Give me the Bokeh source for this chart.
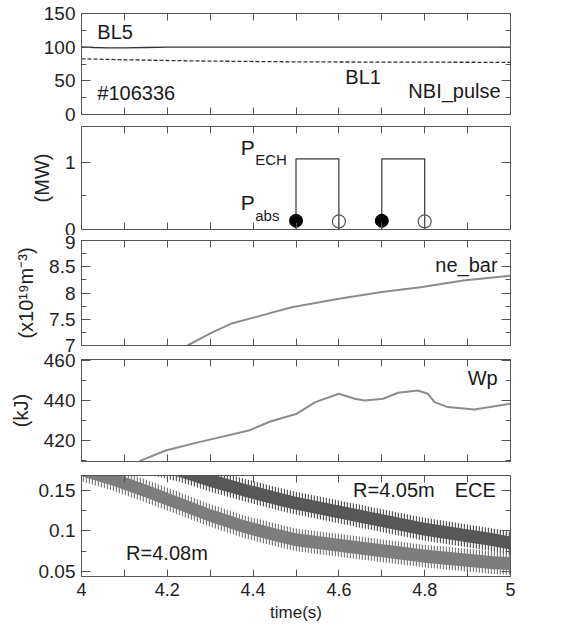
from bokeh.plotting import figure
from bokeh.models import Range1d, LinearAxis, FixedTicker, Label
from bokeh.layouts import column
from bokeh.embed import file_html
from bokeh.resources import INLINE

# ---------------- data ----------------
x_ticks = [4.0, 4.2, 4.4, 4.6, 4.8, 5.0]
x_tick_labels = ["4", "4.2", "4.4", "4.6", "4.8", "5"]
x_minor = [4.1, 4.3, 4.5, 4.7, 4.9]

# panel 1: NBI pulse
bl5_t = [4.0, 4.03, 4.06, 4.1, 4.15, 4.2, 4.3, 4.5, 4.7, 5.0]
bl5 = [100.5, 99.5, 99.0, 99.0, 99.5, 100.0, 100.0, 100.0, 100.0, 100.0]
bl1_t = [4.0, 4.1, 4.2, 4.3, 4.5, 4.7, 4.9, 5.0]
bl1 = [82.7, 81.3, 80.2, 79.3, 78.2, 77.8, 77.6, 77.4]
p1_ticks = [0, 50, 100, 150]
p1_labels = ["0", "50", "100", "150"]
p1_minor = [25, 75, 125]

# panel 2: ECH power
ech_t = [4.0, 4.5, 4.5, 4.6, 4.6, 4.7, 4.7, 4.8, 4.8, 5.0]
ech_p = [0, 0, 1.05, 1.05, 0, 0, 1.05, 1.05, 0, 0]
pabs_on_t = [4.5, 4.7]
pabs_on = [0.13, 0.13]
pabs_off_t = [4.6, 4.8]
pabs_off = [0.12, 0.12]
p2_ticks = [0, 1]
p2_labels = ["0", "1"]
p2_minor = [0.5]

# panel 3: line averaged density
ne_t = [4.247, 4.305, 4.35, 4.405, 4.49, 4.6, 4.70, 4.79, 4.89, 5.0]
ne = [7.0, 7.25, 7.42, 7.54, 7.73, 7.89, 8.02, 8.11, 8.24, 8.33]
p3_ticks = [7, 7.5, 8, 8.5, 9]
p3_labels = ["7", "7.5", "8", "8.5", "9"]
p3_minor = [7.25, 7.75, 8.25, 8.75]

# panel 4: stored energy
wp_t = [4.135, 4.196, 4.274, 4.39, 4.44, 4.502, 4.545, 4.6, 4.637, 4.66,
        4.703, 4.738, 4.784, 4.807, 4.823, 4.854, 4.916, 5.0]
wp = [409.7, 415.0, 419.2, 425.0, 429.5, 433.4, 439.2, 443.4, 440.9, 440.0,
      440.9, 443.9, 445.0, 443.4, 439.2, 436.7, 435.5, 438.4]
p4_ticks = [420, 440, 460]
p4_labels = ["420", "440", "460"]
p4_minor = [410, 430, 450]

# panel 5: ECE
ece_t = [4.0, 4.07, 4.15, 4.23, 4.3, 4.38, 4.46, 4.5, 4.65, 4.8, 4.96, 5.0]
ece_408 = [0.175, 0.164, 0.149, 0.133, 0.119, 0.105, 0.094, 0.089, 0.079, 0.069, 0.061, 0.060]
ece_405 = [0.200, 0.192, 0.184, 0.174, 0.162, 0.150, 0.139, 0.134, 0.118, 0.102, 0.089, 0.085]
p5_ticks = [0.05, 0.1, 0.15]
p5_labels = ["0.05", "0.1", "0.15"]
p5_minor = [0.075, 0.125]

# ---------------- style ----------------
FONT = "Liberation Sans"
FRAME = "#555555"
W = 522


def hidden_axis(ticks, minor, tick_in, minor_in):
    return LinearAxis(ticker=FixedTicker(ticks=ticks, minor_ticks=minor),
                      major_label_overrides={t: "" for t in ticks},
                      major_label_text_font_size="0px", major_label_standoff=0,
                      major_tick_in=tick_in, major_tick_out=0,
                      minor_tick_in=minor_in, minor_tick_out=0,
                      axis_line_color=FRAME, major_tick_line_color=FRAME,
                      minor_tick_line_color=FRAME)


def make_fig(height, yr, top, bottom, yt, yl, ym, ylabel=None, xlabels=False):
    p = figure(width=W, height=height, x_range=Range1d(4, 5), y_range=Range1d(*yr),
               output_backend="svg", toolbar_location=None,
               min_border_left=81, min_border_right=12,
               min_border_top=top, min_border_bottom=bottom)
    p.xgrid.visible = False
    p.ygrid.visible = False
    p.outline_line_color = FRAME
    p.outline_line_width = 1
    p.background_fill_color = "white"
    p.border_fill_color = "white"

    ya = p.yaxis[0]
    ya.ticker = FixedTicker(ticks=yt, minor_ticks=ym)
    ya.major_label_overrides = dict(zip(yt, yl))
    ya.major_label_text_font = FONT
    ya.major_label_text_font_size = "19px"
    ya.major_label_text_color = "#222222"
    ya.major_label_standoff = 6
    ya.major_tick_in = 9
    ya.major_tick_out = 0
    ya.minor_tick_in = 5
    ya.minor_tick_out = 0
    ya.axis_line_color = FRAME
    ya.major_tick_line_color = FRAME
    ya.minor_tick_line_color = FRAME
    if ylabel:
        ya.axis_label = ylabel
        ya.axis_label_text_font = FONT
        ya.axis_label_text_font_size = "20px"
        ya.axis_label_text_font_style = "normal"
        ya.axis_label_text_color = "#222222"
        ya.axis_label_standoff = 9

    xa = p.xaxis[0]
    xa.ticker = FixedTicker(ticks=x_ticks, minor_ticks=x_minor)
    xa.major_tick_in = 7
    xa.major_tick_out = 0
    xa.minor_tick_in = 7
    xa.minor_tick_out = 0
    xa.axis_line_color = FRAME
    xa.major_tick_line_color = FRAME
    xa.minor_tick_line_color = FRAME
    if xlabels:
        xa.major_label_overrides = dict(zip(x_ticks, x_tick_labels))
        xa.major_label_text_font = FONT
        xa.major_label_text_font_size = "18px"
        xa.major_label_text_color = "#222222"
        xa.major_label_standoff = 6
        xa.axis_label = "time(s)"
        xa.axis_label_text_font = FONT
        xa.axis_label_text_font_size = "17px"
        xa.axis_label_text_font_style = "normal"
        xa.axis_label_text_color = "#222222"
        xa.axis_label_standoff = 4
    else:
        xa.major_label_overrides = {t: "" for t in x_ticks}
        xa.major_label_text_font_size = "0px"
        xa.major_label_standoff = 0

    p.add_layout(hidden_axis(x_ticks, x_minor, 7, 7), "above")
    p.add_layout(hidden_axis(yt, ym, 9, 5), "right")
    return p


def label(p, x, y, text, size="20px", align="left"):
    p.add_layout(Label(x=x, y=y, text=text, text_font=FONT, text_font_size=size,
                       text_color="#1a1a1a", text_align=align, text_baseline="middle"))


# panel 1
p1 = make_fig(125, (0, 150), 13, 11, p1_ticks, p1_labels, p1_minor)
p1.line(bl5_t, bl5, line_color="#333333", line_width=1.3)
p1.line(bl1_t, bl1, line_color="#333333", line_width=1.3, line_dash="4 2")
label(p1, 4.037, 121.8, "BL5")
label(p1, 4.037, 31.2, "#106336")
label(p1, 4.615, 55, "BL1")
label(p1, 4.977, 35.6, "NBI_pulse", align="right")

# panel 2
p2 = make_fig(110, (0, 1.53), 1, 6, p2_ticks, p2_labels, p2_minor, ylabel="(MW)")
p2.line(ech_t, ech_p, line_color="#333333", line_width=1.2)
p2.scatter(pabs_on_t, pabs_on, size=13, marker="circle", fill_color="black", line_color="black")
p2.scatter(pabs_off_t, pabs_off, size=13, marker="circle", fill_color=None,
           line_color="#555555", line_width=1.2)
label(p2, 4.371, 1.22, "P", size="21px")
label(p2, 4.405, 1.045, "ECH", size="15px")
label(p2, 4.371, 0.40, "P", size="21px")
label(p2, 4.405, 0.215, "abs", size="15px")

# panel 3
p3 = make_fig(117, (7, 9), 5, 7, p3_ticks, p3_labels, p3_minor, ylabel="(x10¹⁹m⁻³)")
p3.line(ne_t, ne, line_color="#8c8c8c", line_width=2)
label(p3, 4.97, 8.53, "ne_bar", align="right")

# panel 4
p4 = make_fig(111, (409.5, 460.5), 7, 2, p4_ticks, p4_labels, p4_minor, ylabel="(kJ)")
p4.line(wp_t, wp, line_color="#8c8c8c", line_width=2)
label(p4, 4.97, 451.2, "Wp", align="right")

# panel 5
p5 = make_fig(161, (0.044, 0.168), 12, 46, p5_ticks, p5_labels, p5_minor, xlabels=True)
for c, col in ((ece_408, "#7d7d7d"), (ece_405, "#575757")):
    p5.varea(x=ece_t, y1=[v - 0.014 for v in c], y2=[v + 0.014 for v in c],
             fill_alpha=0, hatch_pattern="vertical_line", hatch_color=col,
             hatch_scale=3, hatch_weight=1.4)
    p5.varea(x=ece_t, y1=[v - 0.008 for v in c], y2=[v + 0.008 for v in c],
             fill_color=col, fill_alpha=1.0)
label(p5, 4.633, 0.15, "R=4.05m")
label(p5, 4.870, 0.15, "ECE")
label(p5, 4.104, 0.0732, "R=4.08m")

layout = column(p1, p2, p3, p4, p5, spacing=0)
open("out.html", "w").write(file_html(layout, INLINE))
